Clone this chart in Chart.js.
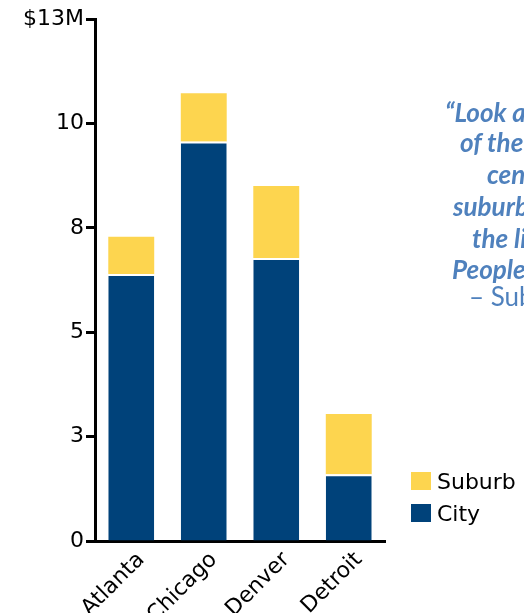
<!DOCTYPE html>
<html>
<head>
<meta charset="utf-8">
<script src="https://cdn.jsdelivr.net/npm/chart.js@4"></script>
<style>
  html, body { margin: 0; padding: 0; background: #fff; overflow: hidden; }
  #wrap { position: relative; width: 524px; height: 613px; overflow: hidden; }
  #chart { position: absolute; left: 0; top: 0; }
  .quote {
    position: absolute; white-space: nowrap;
    font-family: Lato, "Open Sans", sans-serif; font-weight: bold; font-style: italic;
    font-size: 26px; line-height: 32px; color: #4f81bd;
  }
  .source { font-weight: normal; font-style: normal; }
  .legend { position: absolute; left: 411px; font-family: "DejaVu Sans", Verdana, sans-serif; font-size: 22px; line-height: 26px; color: #000; white-space: nowrap; }
  .legend span.box { display: inline-block; width: 20px; height: 18px; vertical-align: -1px; margin-right: 6px; }
</style>
</head>
<body>
<div id="wrap">
  <canvas id="chart" width="524" height="613"></canvas>
  <div class="quote" style="left:445px; top:96px;">“Look at any map</div>
  <div class="quote" style="left:460px; top:126px;">of the last half</div>
  <div class="quote" style="left:487px; top:158px;">century: the</div>
  <div class="quote" style="left:453px; top:190px;">suburbs are where</div>
  <div class="quote" style="left:472px; top:222px;">the living is.</div>
  <div class="quote" style="left:452px; top:253px;">People moved.”</div>
  <div class="quote source" style="left:469px; top:280px;">– Suburban Report</div>
  <div class="legend" style="top:469px;"><span class="box" style="background:#fdd54f"></span>Suburb</div>
  <div class="legend" style="top:501px;"><span class="box" style="background:#00427a"></span>City</div>
</div>
<script>
// valores en millones de dólares
const cities = ['Atlanta', 'Chicago', 'Denver', 'Detroit'];
const cityValues = [6.65, 9.95, 7.05, 1.66];
const suburbValues = [0.93, 1.2, 1.79, 1.5];
const yTickValues = [0, 2.6, 5.2, 7.8, 10.4, 13];
const yTickLabels = ['0', '3', '5', '8', '10', '$13M'];

const tickFont = { family: "'DejaVu Sans', Verdana, sans-serif", size: 22 };

new Chart(document.getElementById('chart').getContext('2d'), {
  type: 'bar',
  data: {
    labels: cities,
    datasets: [
      {
        label: 'City',
        data: cityValues,
        backgroundColor: '#00427a',
        borderColor: '#ffffff',
        borderWidth: { top: 2, left: 0, right: 0, bottom: 0 },
        borderSkipped: false,
        barPercentage: 0.7,
        categoryPercentage: 0.905
      },
      {
        label: 'Suburb',
        data: suburbValues,
        backgroundColor: '#fdd54f',
        borderWidth: 0,
        barPercentage: 0.7,
        categoryPercentage: 0.905
      }
    ]
  },
  options: {
    responsive: false,
    animation: false,
    layout: { padding: { left: 0, right: 139, top: 19, bottom: 0 } },
    scales: {
      x: {
        stacked: true,
        grid: { display: false },
        border: { display: true, color: '#000', width: 3 },
        ticks: { color: '#000', font: tickFont, minRotation: 45, maxRotation: 45, padding: -2, labelOffset: 10 },
        afterFit: s => { s.height = 72; }
      },
      y: {
        stacked: true,
        min: 0,
        max: 13,
        afterBuildTicks: s => { s.ticks = yTickValues.map(v => ({ value: v })); },
        grid: { display: true, drawOnChartArea: false, drawTicks: true, tickLength: 9, tickColor: '#000', tickWidth: 3 },
        border: { display: true, color: '#000', width: 3 },
        ticks: {
          color: '#000',
          font: tickFont,
          padding: 2,
          callback: (v, i) => yTickLabels[i]
        },
        afterFit: s => { s.width = 95; }
      }
    },
    plugins: {
      legend: { display: false },
      tooltip: { enabled: false }
    }
  }
});
</script>
</body>
</html>
